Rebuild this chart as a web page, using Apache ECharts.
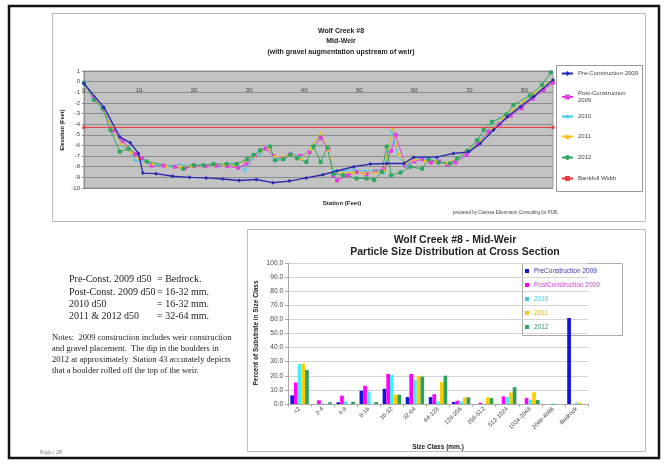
<!DOCTYPE html>
<html><head><meta charset="utf-8">
<script src="https://cdn.jsdelivr.net/npm/echarts@6/dist/echarts.min.js"></script>
<style>html,body{margin:0;padding:0;background:#fff}#c{width:667px;height:466px}</style>
</head><body><div id="c"></div><script>
// ---------- Top chart: cross-section elevation (station ft, elevation ft) ----------
const elevTicks = [-10, 1, 1];
const stationTicks = [0, 85.2, 10];
const pre2009Profile = [[0,-0.2],[3.6,-2.4],[6.5,-5.2],[8.4,-5.75],[9.9,-6.75],[10.7,-8.6],[13.1,-8.65],[16.1,-8.9],[19.2,-9.0],[22.2,-9.05],[25.2,-9.15],[28.2,-9.3],[31.3,-9.2],[34.3,-9.5],[37.3,-9.35],[40.4,-9.05],[43.4,-8.75],[45.9,-8.4],[49,-8.0],[52,-7.75],[55,-7.7],[58.1,-7.7],[59.9,-7.1],[64.1,-7.1],[67.1,-6.75],[69.9,-6.6],[72,-5.8],[74.4,-4.55],[76.9,-3.3],[79.3,-2.35],[81.7,-1.4],[85.2,0.15]];
const post2009Profile = [[0,-0.1],[1.8,-1.5],[3.5,-2.6],[5.3,-4.6],[7,-5.6],[9.3,-6.8],[10.5,-7.2],[12.3,-7.9],[14.5,-7.9],[16.5,-8.0],[18.3,-8.15],[20,-7.95],[22,-7.95],[24,-7.9],[26,-7.95],[28,-8.1],[29.5,-7.7],[31,-7.0],[33,-6.3],[34.5,-7.0],[36,-7.2],[37.5,-6.8],[39.3,-7.0],[41,-6.6],[43,-5.3],[44.4,-6.4],[45.3,-8.8],[46,-9.3],[48,-8.8],[49.5,-8.5],[51.3,-8.7],[53,-8.4],[54.5,-8.2],[55.8,-6.5],[56.6,-5.0],[58.4,-7.9],[60,-7.5],[61.5,-7.3],[63,-7.6],[64.5,-7.5],[66,-7.8],[67.5,-7.6],[69.5,-6.9],[71.5,-5.9],[73.5,-4.7],[75.5,-4.0],[77.5,-3.2],[79.5,-2.5],[81.5,-1.6],[83.5,-0.8],[85.2,-0.1]];
const y2010Profile = [[0,0.0],[1.8,-1.6],[3.4,-2.6],[5,-4.3],[6.9,-6.0],[8.3,-6.5],[9.3,-7.4],[11.4,-7.55],[13.2,-7.85],[15.5,-7.9],[17.5,-7.8],[19.5,-7.85],[21.5,-7.8],[23.5,-7.85],[25.5,-7.8],[27.5,-7.7],[29.3,-8.35],[30.8,-7.1],[32,-6.8],[33.5,-6.1],[34.4,-7.1],[35.6,-7.25],[37.6,-6.7],[39.3,-7.1],[41.1,-6.45],[43,-4.9],[44.4,-6.3],[45.3,-8.35],[47,-8.4],[49,-8.3],[51,-8.4],[53,-8.3],[54.5,-8.6],[55.3,-6.3],[55.9,-4.6],[57,-7.0],[58.5,-7.9],[60,-7.2],[62,-7.3],[64,-7.4],[66,-7.6],[68,-7.3],[70,-6.5],[72,-5.4],[74,-4.2],[76,-3.3],[78,-2.6],[80,-1.8],[82,-1.1],[85.2,0.2]];
const y2011Profile = [[0,-0.1],[1.8,-1.6],[3.4,-2.5],[5,-4.4],[6.8,-5.8],[8.5,-6.6],[10,-7.2],[12.5,-7.7],[15,-7.9],[17.5,-8.0],[19.5,-7.9],[21.5,-7.85],[23.5,-7.8],[25.5,-7.8],[27.5,-7.8],[29.5,-7.4],[31,-7.0],[33.5,-6.2],[34.6,-7.0],[36,-7.1],[37.6,-6.8],[39.5,-7.2],[41.2,-6.3],[43,-4.8],[44.4,-6.4],[45.3,-8.5],[47,-8.6],[49,-8.5],[51,-8.6],[53,-8.5],[54.5,-8.3],[55.3,-6.2],[56.1,-4.4],[57.2,-6.9],[58.5,-7.6],[60,-7.3],[62,-7.4],[64,-7.5],[66,-7.6],[68,-7.2],[70,-6.4],[72,-5.5],[74,-4.3],[76,-3.4],[78,-2.6],[80,-1.8],[82,-1.0],[85.2,0.2]];
const y2012Profile = [[0,-0.1],[1.8,-1.7],[3.4,-2.5],[4.8,-4.55],[6.5,-6.6],[8.1,-6.3],[11.4,-7.5],[18,-8.2],[19.9,-7.85],[21.7,-7.85],[23.5,-7.75],[25.9,-7.75],[27.7,-7.75],[29.6,-7.3],[30.8,-6.9],[32,-6.45],[33.8,-6.1],[34.7,-7.4],[36.2,-7.3],[37.5,-6.9],[38.7,-7.2],[40.4,-7.55],[41.7,-6.1],[43,-7.55],[44.2,-6.2],[45.3,-8.65],[47.1,-8.8],[49.5,-9.1],[51.3,-9.1],[52.7,-9.25],[54.1,-8.5],[55,-6.1],[55.8,-8.8],[57.5,-8.55],[59.3,-8.0],[61.4,-8.2],[62.6,-7.3],[64.4,-7.6],[66.5,-7.7],[67.8,-7.2],[69.6,-6.5],[71.4,-5.5],[72.6,-4.55],[74.1,-3.8],[76.7,-3.1],[78,-2.2],[81,-1.3],[83.2,-0.3],[84.8,0.85]];
const bankfullLine = [[0,-4.3],[85.2,-4.3]];
const profileNames = ['Pre-Construction 2009','Post-Construction\n2009','2010','2011','2012','Bankfull Width'];

// ---------- Bottom chart: particle size distribution (% of substrate) ----------
const sizeClasses = ['<2','2-4','4-8','8-16','16-32','32-64','64-128','128-256','256-512','512-1024','1024-2048','2048-4096','Bedrock'];
const pctTicks = [0, 100, 10];
const pre2009Pct  = [6.1,0,1.2,9.4,10.8,4.9,4.9,1.4,0,0,0,0,61];
const post2009Pct = [15.2,2.6,5.9,12.9,21.3,21.3,7,2.3,0.9,5.4,4.2,0,0];
const y2010Pct    = [28.3,0.5,1.9,8.9,20.6,17.1,1.9,1.6,0,4.9,3,0.5,1];
const y2011Pct    = [28.8,0,0,0,6.6,20.1,15.5,4.7,4.7,8.2,8.4,0,1];
const y2012Pct    = [24.1,1.2,1.6,1.4,6.6,19.4,20.1,4.7,4.2,11.9,2.8,0,0];
const barNames = ['PreConstruction 2009','PostConstruction 2009','2010','2011','2012'];

const F = 'Liberation Sans, Arial, sans-serif';
const SERIF = 'Liberation Serif, Times New Roman, serif';
const lineColors = ['#2b2bb0','#e23ee2','#3cc8ec','#f0c020','#2ea860','#ee3333'];
const barColors = ['#1414e0','#ff00ff','#3ff0f8','#ffcc00','#2f9f60'];
const legendTextColors = ['#3030c0','#d040d0','#40c8d8','#d8b020','#309860'];
const lineSymbols = ['diamond','rect','path://M5,0 L6.2,3.5 L10,3.8 L7,6 L8,10 L5,7.8 L2,10 L3,6 L0,3.8 L3.8,3.5 Z','triangle','circle','rect'];
const lineData = [pre2009Profile, post2009Profile, y2010Profile, y2011Profile, y2012Profile, bankfullLine];
const barData = [pre2009Pct, post2009Pct, y2010Pct, y2011Pct, y2012Pct];

const chart = echarts.init(document.getElementById('c'), null, {renderer:'canvas'});

const series = [];
lineData.forEach((d,i)=>{
  series.push({
    name: profileNames[i], type:'line', xAxisIndex:0, yAxisIndex:0, data:d,
    symbol: lineSymbols[i], symbolSize: i===4?4.5:(i===5?3:4), showSymbol:true,
    lineStyle:{color:lineColors[i], width: i===0?1.4:1},
    itemStyle:{color:lineColors[i]}, z: i===0?3:(i===5?4:2), animation:false
  });
});
barData.forEach((d,i)=>{
  series.push({
    name: barNames[i], type:'bar', xAxisIndex:1, yAxisIndex:1, data:d,
    barGap:'0%', barCategoryGap:'20%', itemStyle:{color:barColors[i]}, animation:false
  });
});

const topLegendTops = [70, 90, 113, 133, 154, 175];
const legends = profileNames.map((n,i)=>({
  data:[n], orient:'vertical', left:561, top:topLegendTops[i], padding:0,
  itemWidth:11, itemHeight:6, itemGap:0,
  textStyle:{fontSize:6, fontFamily:F, color:'#444', lineHeight:7}
}));
legends.push({
  data: barNames.map((n,i)=>({name:n, icon:'rect', textStyle:{color:legendTextColors[i]}})),
  orient:'vertical', left:525, top:267, padding:0, itemWidth:4, itemHeight:4, itemGap:6,
  textStyle:{fontSize:6.5, fontFamily:F, lineHeight:8}
});

const txt = (x,y,s,o={}) => ({type:'text', x, y, style:Object.assign({text:s, fill:'#222', font:`7px ${F}`, textAlign:'left', textVerticalAlign:'middle'}, o), silent:true});

chart.setOption({
  animation:false,
  grid:[
    {left:84, top:71, width:469, height:117, show:true, backgroundColor:'#c3c3c3', borderColor:'#9a9a9a', borderWidth:1},
    {left:288, top:263, width:300, height:141, show:false}
  ],
  xAxis:[
    {gridIndex:0, type:'value', position:'top', min:stationTicks[0], max:stationTicks[1], interval:stationTicks[2],
     axisLine:{show:false, onZero:false}, axisTick:{show:false},
     axisLabel:{fontSize:6, fontFamily:F, color:'#444', margin:-22, showMaxLabel:false, showMinLabel:true, hideOverlap:false}, splitLine:{show:false}},
    {gridIndex:1, type:'category', data:sizeClasses,
     axisLine:{lineStyle:{color:'#aaa'}}, axisTick:{show:true, length:3, alignWithLabel:false, lineStyle:{color:'#aaa'}},
     axisLabel:{interval:0, rotate:45, fontSize:6, fontFamily:F, color:'#444', margin:4}}
  ],
  yAxis:[
    {gridIndex:0, type:'value', min:elevTicks[0], max:elevTicks[1], interval:elevTicks[2],
     axisLine:{show:true, onZero:false, lineStyle:{color:'#888'}}, axisTick:{show:true, length:2, lineStyle:{color:'#888'}},
     axisLabel:{fontSize:6, fontFamily:F, color:'#444', margin:4},
     splitLine:{show:true, lineStyle:{color:'#8c8c8c', width:1}}},
    {gridIndex:1, type:'value', min:pctTicks[0], max:pctTicks[1], interval:pctTicks[2],
     axisLine:{show:true, lineStyle:{color:'#aaa'}}, axisTick:{show:true, length:3, lineStyle:{color:'#aaa'}},
     axisLabel:{fontSize:6.5, fontFamily:F, color:'#444', margin:5, formatter:v=>v.toFixed(1)},
     splitLine:{show:true, lineStyle:{color:'#d4d4d4', width:1}}}
  ],
  legend: legends,
  series,
  graphic:[
    {type:'rect', shape:{x:9, y:6, width:650, height:452}, style:{fill:'none', stroke:'#111', lineWidth:2.5}, silent:true, z:-10},
    {type:'rect', shape:{x:52.5, y:13.5, width:593, height:208}, style:{fill:'none', stroke:'#bdbdbd', lineWidth:1}, silent:true, z:-5},
    {type:'rect', shape:{x:247.5, y:229.5, width:398, height:222}, style:{fill:'none', stroke:'#bdbdbd', lineWidth:1}, silent:true, z:-5},
    {type:'rect', shape:{x:556.5, y:65.5, width:86, height:126}, style:{fill:'#fff', stroke:'#999', lineWidth:1}, silent:true, z:-1},
    {type:'rect', shape:{x:522.5, y:263.5, width:100, height:72}, style:{fill:'#fff', stroke:'#aaa', lineWidth:1}, silent:true, z:-1},
    txt(341,31,'Wolf Creek #8',{font:`bold 7px ${F}`, textAlign:'center'}),
    txt(341,41,'Mid-Weir',{font:`bold 7px ${F}`, textAlign:'center'}),
    txt(341,52,'(with gravel augmentation upstream of weir)',{font:`bold 7px ${F}`, textAlign:'center'}),
    txt(342,203,'Station (Feet)',{font:`bold 6px ${F}`, textAlign:'center'}),
    {type:'text', x:62, y:130, rotation:Math.PI/2, style:{text:'Elevation (Feet)', fill:'#222', font:`bold 5.5px ${F}`, textAlign:'center', textVerticalAlign:'middle'}, silent:true},
    txt(557,213,'prepared by Clarissa Ebenmann Consulting for PUB',{font:`4.5px ${F}`, textAlign:'right', fill:'#444'}),
    txt(455,240,'Wolf Creek #8 - Mid-Weir',{font:`bold 10.5px ${F}`, textAlign:'center'}),
    txt(455,252,'Particle Size Distribution at Cross Section',{font:`bold 10.5px ${F}`, textAlign:'center'}),
    txt(438,447,'Size Class (mm.)',{font:`bold 6.5px ${F}`, textAlign:'center'}),
    {type:'text', x:256, y:333, rotation:Math.PI/2, style:{text:'Percent of Substrate in Size Class', fill:'#222', font:`bold 6.5px ${F}`, textAlign:'center', textVerticalAlign:'middle'}, silent:true},
    txt(69,279,'Pre-Const. 2009 d50',{font:`10px ${SERIF}`}),
    txt(157,279,'= Bedrock.',{font:`10px ${SERIF}`}),
    txt(69,292,'Post-Const. 2009 d50',{font:`10px ${SERIF}`}),
    txt(157,292,'= 16-32 mm.',{font:`10px ${SERIF}`}),
    txt(69,304,'2010 d50',{font:`10px ${SERIF}`}),
    txt(157,304,'= 16-32 mm.',{font:`10px ${SERIF}`}),
    txt(69,316,'2011 & 2012 d50',{font:`10px ${SERIF}`}),
    txt(157,316,'= 32-64 mm.',{font:`10px ${SERIF}`}),
    txt(52,338,'Notes:  2009 construction includes weir construction',{font:`8.5px ${SERIF}`}),
    txt(52,349,'and gravel placement.  The dip in the boulders in',{font:`8.5px ${SERIF}`}),
    txt(52,360,'2012 at approximately  Station 43 accurately depicts',{font:`8.5px ${SERIF}`}),
    txt(52,371,'that a boulder rolled off the top of the weir.',{font:`8.5px ${SERIF}`}),
    txt(40,452,'Page | 28',{font:`6px ${SERIF}`, fill:'#777'})
  ]
});
</script></body></html>
